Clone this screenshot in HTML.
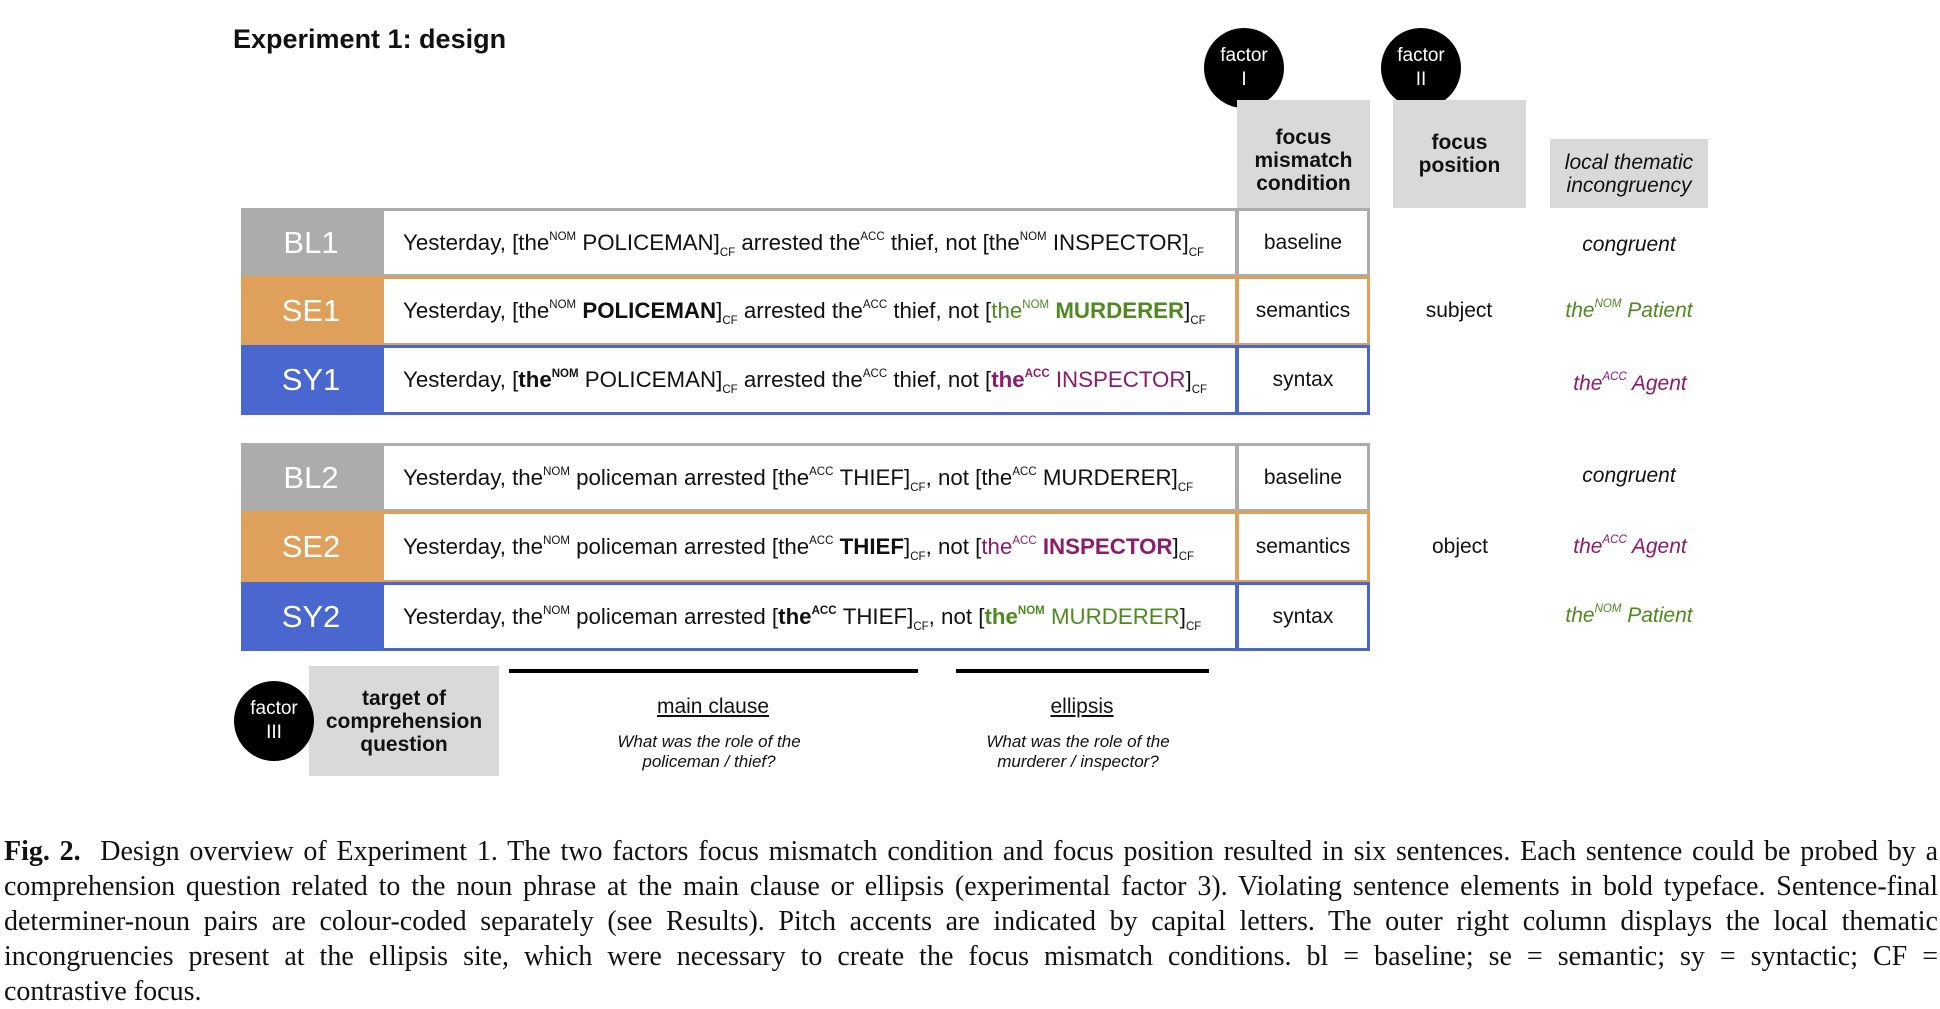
<!DOCTYPE html>
<html><head><meta charset="utf-8"><style>
*{margin:0;padding:0;box-sizing:border-box}
body{width:1940px;height:1008px;background:#fff;position:relative;overflow:hidden;font-family:"Liberation Sans",Arial,sans-serif;color:#111}
.a{position:absolute}
.lab{position:absolute;color:#fff;font-size:31px;display:flex;align-items:center;justify-content:center}
.sent{position:absolute;background:#fff;font-size:22.3px;display:flex;align-items:center;padding-left:19px;white-space:nowrap}
.cond{position:absolute;background:#fff;font-size:21px;display:flex;align-items:center;justify-content:center}
sup{font-size:11.5px;vertical-align:10px;line-height:0}
sub{font-size:11.5px;vertical-align:-6px;line-height:0}
.g{color:#4e8a1f}.p{color:#8e1a6e}
.circ{position:absolute;width:80px;height:80px;border-radius:50%;background:#000;color:#fff;font-size:19px;text-align:center;line-height:24px;padding-top:16px}
.hdr{position:absolute;background:#d9d9d9;font-weight:bold;font-size:21px;text-align:center;display:flex;align-items:center;justify-content:center;line-height:23px}
.col{position:absolute;font-size:21px;text-align:center;transform:translate(-50%,-50%);white-space:nowrap}
.it{font-style:italic}
.cap{position:absolute;left:4px;top:834px;width:1934px;font-family:"Liberation Serif",serif;font-size:28px;line-height:35px;text-align:justify}
</style></head><body>
<div class="a" style="left:233px;top:24px;font-size:27px;font-weight:bold">Experiment 1: design</div>

<div class="circ" style="left:1204px;top:28px">factor<br>I</div>
<div class="circ" style="left:1381px;top:28px">factor<br>II</div>
<div class="hdr" style="left:1237px;top:100px;width:133px;height:108px;padding-top:12px">focus<br>mismatch<br>condition</div>
<div class="hdr" style="left:1393px;top:100px;width:133px;height:108px">focus<br>position</div>
<div class="hdr" style="left:1550px;top:139px;width:158px;height:69px;font-weight:normal;font-style:italic">local thematic<br>incongruency</div>

<div class="lab" style="left:241px;top:208px;width:140px;height:69px;background:#acacac">BL1</div>
<div class="sent" style="left:381px;top:208px;width:857px;height:69px;border:3px solid #acacac"><span>Yesterday, [the<sup>NOM</sup>&nbsp;POLICEMAN]<sub>CF</sub>&nbsp;arrested the<sup>ACC</sup>&nbsp;thief, not [the<sup>NOM</sup>&nbsp;INSPECTOR]<sub>CF</sub></span></div>
<div class="cond" style="left:1236px;top:208px;width:134px;height:69px;border:3px solid #acacac">baseline</div>

<div class="lab" style="left:241px;top:276px;width:140px;height:70px;background:#dea05a">SE1</div>
<div class="sent" style="left:381px;top:276px;width:857px;height:70px;border:3px solid #dea05a"><span>Yesterday, [the<sup>NOM</sup>&nbsp;<b>POLICEMAN</b>]<sub>CF</sub>&nbsp;arrested the<sup>ACC</sup>&nbsp;thief, not [<span class="g">the<sup>NOM</sup>&nbsp;<b>MURDERER</b></span>]<sub>CF</sub></span></div>
<div class="cond" style="left:1236px;top:276px;width:134px;height:70px;border:3px solid #dea05a">semantics</div>

<div class="lab" style="left:241px;top:345px;width:140px;height:70px;background:#4a67d0">SY1</div>
<div class="sent" style="left:381px;top:345px;width:857px;height:70px;border:3px solid #4a67d0"><span>Yesterday, [<b>the<sup>NOM</sup></b>&nbsp;POLICEMAN]<sub>CF</sub>&nbsp;arrested the<sup>ACC</sup>&nbsp;thief, not [<span class="p"><b>the<sup>ACC</sup></b>&nbsp;INSPECTOR</span>]<sub>CF</sub></span></div>
<div class="cond" style="left:1236px;top:345px;width:134px;height:70px;border:3px solid #4a67d0">syntax</div>

<div class="lab" style="left:241px;top:443px;width:140px;height:69px;background:#acacac">BL2</div>
<div class="sent" style="left:381px;top:443px;width:857px;height:69px;border:3px solid #acacac"><span>Yesterday, the<sup>NOM</sup>&nbsp;policeman arrested [the<sup>ACC</sup>&nbsp;THIEF]<sub>CF</sub>, not [the<sup>ACC</sup>&nbsp;MURDERER]<sub>CF</sub></span></div>
<div class="cond" style="left:1236px;top:443px;width:134px;height:69px;border:3px solid #acacac">baseline</div>

<div class="lab" style="left:241px;top:511px;width:140px;height:72px;background:#dea05a">SE2</div>
<div class="sent" style="left:381px;top:511px;width:857px;height:72px;border:3px solid #dea05a"><span>Yesterday, the<sup>NOM</sup>&nbsp;policeman arrested [the<sup>ACC</sup>&nbsp;<b>THIEF</b>]<sub>CF</sub>, not [<span class="p">the<sup>ACC</sup>&nbsp;<b>INSPECTOR</b></span>]<sub>CF</sub></span></div>
<div class="cond" style="left:1236px;top:511px;width:134px;height:72px;border:3px solid #dea05a">semantics</div>

<div class="lab" style="left:241px;top:582px;width:140px;height:69px;background:#4a67d0">SY2</div>
<div class="sent" style="left:381px;top:582px;width:857px;height:69px;border:3px solid #4a67d0"><span>Yesterday, the<sup>NOM</sup>&nbsp;policeman arrested [<b>the<sup>ACC</sup></b>&nbsp;THIEF]<sub>CF</sub>, not [<span class="g"><b>the<sup>NOM</sup></b>&nbsp;MURDERER</span>]<sub>CF</sub></span></div>
<div class="cond" style="left:1236px;top:582px;width:134px;height:69px;border:3px solid #4a67d0">syntax</div>

<div class="col" style="left:1459px;top:311px">subject</div>
<div class="col" style="left:1460px;top:547px">object</div>
<div class="col it" style="left:1629px;top:245px">congruent</div>
<div class="col it g" style="left:1629px;top:311px">the<sup>NOM</sup> Patient</div>
<div class="col it p" style="left:1630px;top:384px">the<sup>ACC</sup> Agent</div>
<div class="col it" style="left:1629px;top:476px">congruent</div>
<div class="col it p" style="left:1630px;top:547px">the<sup>ACC</sup> Agent</div>
<div class="col it g" style="left:1629px;top:616px">the<sup>NOM</sup> Patient</div>

<div class="hdr" style="left:309px;top:666px;width:190px;height:110px">target of<br>comprehension<br>question</div>
<div class="circ" style="left:234px;top:681px">factor<br>III</div>
<div class="a" style="left:509px;top:669px;width:409px;height:4px;background:#000"></div>
<div class="a" style="left:956px;top:669px;width:253px;height:4px;background:#000"></div>
<div class="col" style="left:713px;top:707px;text-decoration:underline">main clause</div>
<div class="col" style="left:1082px;top:707px;text-decoration:underline">ellipsis</div>
<div class="col it" style="left:709px;top:752px;font-size:17px;line-height:20px">What was the role of the<br>policeman / thief?</div>
<div class="col it" style="left:1078px;top:752px;font-size:17px;line-height:20px">What was the role of the<br>murderer / inspector?</div>

<div class="cap"><b>Fig. 2.</b>&nbsp; Design overview of Experiment 1. The two factors focus mismatch condition and focus position resulted in six sentences. Each sentence could be probed by a comprehension question related to the noun phrase at the main clause or ellipsis (experimental factor 3). Violating sentence elements in bold typeface. Sentence-final determiner-noun pairs are colour-coded separately (see Results). Pitch accents are indicated by capital letters. The outer right column displays the local thematic incongruencies present at the ellipsis site, which were necessary to create the focus mismatch conditions. bl = baseline; se = semantic; sy = syntactic; CF = <span style="white-space:nowrap">contrastive focus.</span></div>
</body></html>
